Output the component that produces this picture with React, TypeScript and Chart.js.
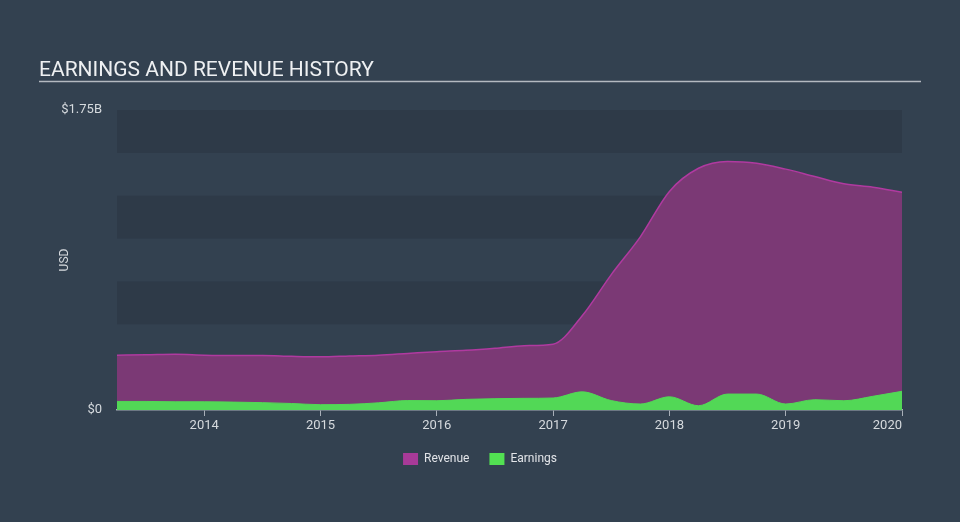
import React, { useEffect, useRef } from "react";
import { Chart, registerables } from "chart.js";

Chart.register(...registerables);

// Quarter ends (decimal years)
const periods: number[] = [
  2013.25, 2013.5, 2013.75, 2014.0, 2014.25, 2014.5, 2014.75, 2015.0,
  2015.25, 2015.5, 2015.75, 2016.0, 2016.25, 2016.5, 2016.75, 2017.0,
  2017.25, 2017.5, 2017.75, 2018.0, 2018.25, 2018.5, 2018.75, 2019.0,
  2019.25, 2019.5, 2019.75, 2020.0,
];

// Revenue, billions USD
const revenue: number[] = [
  0.32, 0.322, 0.325, 0.32, 0.318, 0.318, 0.313, 0.31,
  0.315, 0.32, 0.33, 0.34, 0.348, 0.36, 0.375, 0.384,
  0.55, 0.79, 1.01, 1.275, 1.41, 1.45, 1.44, 1.405,
  1.362, 1.32, 1.30, 1.27,
];

// Earnings, billions USD
const earnings: number[] = [
  0.05, 0.05, 0.048, 0.048, 0.046, 0.043, 0.038, 0.031,
  0.033, 0.042, 0.055, 0.054, 0.062, 0.066, 0.068, 0.07,
  0.106, 0.055, 0.035, 0.077, 0.025, 0.093, 0.093, 0.035,
  0.06, 0.054, 0.08, 0.109,
];

const yearTicks: number[] = [2014, 2015, 2016, 2017, 2018, 2019, 2020];
const yTickValues: number[] = [0, 1.75];
const yTickLabels: string[] = ["$0", "$1.75B"];

const TITLE = "EARNINGS AND REVENUE HISTORY";
const BG = "#334150";
const BAND = "#2e3a48";
const FONT = "Roboto, 'Open Sans', sans-serif";

export default function App() {
  const ref = useRef<HTMLCanvasElement | null>(null);

  useEffect(() => {
    if (!ref.current) return;
    const xMin = periods[0];
    const xMax = periods[periods.length - 1];

    const decor = {
      id: "decor",
      beforeDatasetsDraw(chart: any) {
        const { ctx, chartArea, scales } = chart;
        const y = scales.y;
        ctx.save();
        ctx.fillStyle = BAND;
        for (let i = 0; i < 7; i += 2) {
          const top = y.getPixelForValue(1.75 - i * 0.25);
          const bot = y.getPixelForValue(1.75 - (i + 1) * 0.25);
          ctx.fillRect(chartArea.left, top, chartArea.right - chartArea.left, bot - top);
        }
        ctx.restore();
      },
      afterDraw(chart: any) {
        const { ctx } = chart;
        ctx.save();
        ctx.fillStyle = "#eef0f2";
        ctx.font = `21px ${FONT}`;
        ctx.textBaseline = "alphabetic";
        ctx.textAlign = "left";
        ctx.fillText(TITLE, 39, 76);
        ctx.strokeStyle = "#b4b9c0";
        ctx.lineWidth = 1.5;
        ctx.beginPath();
        ctx.moveTo(39, 81.5);
        ctx.lineTo(921, 81.5);
        ctx.stroke();
        ctx.translate(65, 260);
        ctx.rotate(-Math.PI / 2);
        ctx.font = `12px ${FONT}`;
        ctx.fillStyle = "#d6dade";
        ctx.textAlign = "center";
        ctx.textBaseline = "middle";
        ctx.fillText("USD", 0, 0);
        ctx.restore();
      },
    };

    const chart = new Chart(ref.current, {
      type: "line",
      data: {
        datasets: [
          {
            label: "Earnings",
            data: periods.map((p, i) => ({ x: p, y: earnings[i] })),
            borderColor: "#52d856",
            backgroundColor: "#52d856",
            borderWidth: 1,
            fill: "origin",
            pointRadius: 0,
            cubicInterpolationMode: "monotone",
            order: 0,
          },
          {
            label: "Revenue",
            data: periods.map((p, i) => ({ x: p, y: revenue[i] })),
            borderColor: "#b03aa0",
            backgroundColor: "#7b3975",
            borderWidth: 1.5,
            fill: "origin",
            pointRadius: 0,
            cubicInterpolationMode: "monotone",
            order: 1,
          },
        ],
      },
      options: {
        animation: false,
        responsive: false,
        maintainAspectRatio: false,
        layout: { padding: { left: 0, right: 0, top: 110, bottom: 47 } },
        plugins: {
          tooltip: { enabled: false },
          title: { display: false },
          legend: {
            display: true,
            position: "bottom",
            align: "center",
            labels: {
              boxWidth: 15,
              boxHeight: 12,
              padding: 20,
              color: "#e2e4e8",
              font: { family: FONT, size: 12 },
              generateLabels: () => [
                { text: "Revenue", fillStyle: "#a83a98", strokeStyle: "rgba(0,0,0,0)", lineWidth: 0, fontColor: "#e2e4e8", datasetIndex: 1, hidden: false },
                { text: "Earnings", fillStyle: "#52e052", strokeStyle: "rgba(0,0,0,0)", lineWidth: 0, fontColor: "#e2e4e8", datasetIndex: 0, hidden: false },
              ],
            },
          },
        },
        scales: {
          x: {
            type: "linear",
            min: xMin,
            max: xMax,
            afterBuildTicks: (scale: any) => {
              scale.ticks = [{ value: xMin }, ...yearTicks.map((v) => ({ value: v }))];
            },
            afterFit: (scale: any) => {
              scale.height = 23;
            },
            ticks: {
              align: "inner",
              autoSkip: false,
              maxRotation: 0,
              padding: 2,
              color: "#d6dade",
              font: { family: FONT, size: 13 },
              callback: (v: any) => (yearTicks.includes(v) ? String(v) : ""),
            },
            grid: {
              display: true,
              drawOnChartArea: false,
              drawTicks: true,
              tickLength: 6,
              color: (c: any) => (c.tick && yearTicks.includes(c.tick.value) ? "#a8afb8" : "rgba(0,0,0,0)"),
            },
            border: { display: true, color: "#a8afb8", width: 1.5 },
          },
          y: {
            type: "linear",
            min: 0,
            max: 1.75,
            afterBuildTicks: (scale: any) => {
              scale.ticks = yTickValues.map((v) => ({ value: v }));
            },
            afterFit: (scale: any) => {
              scale.width = 117;
            },
            ticks: {
              padding: 15,
              color: "#d6dade",
              font: { family: FONT, size: 13 },
              callback: (v: any) => {
                const i = yTickValues.indexOf(v);
                return i >= 0 ? yTickLabels[i] : "";
              },
            },
            grid: { display: false, drawTicks: false, tickLength: 0 },
            border: { display: false },
          },
          yRight: {
            type: "linear",
            position: "right",
            display: true,
            afterFit: (scale: any) => {
              scale.width = 58;
            },
            ticks: { display: false },
            grid: { display: false, drawTicks: false, tickLength: 0 },
            border: { display: false },
          },
        },
      } as any,
      plugins: [decor],
    });
    return () => chart.destroy();
  }, []);

  return (
    <div style={{ position: "fixed", left: 0, top: 0, width: 960, height: 522, background: BG }}>
      <canvas ref={ref} width={960} height={522} style={{ display: "block", width: 960, height: 522 }} />
    </div>
  );
}
